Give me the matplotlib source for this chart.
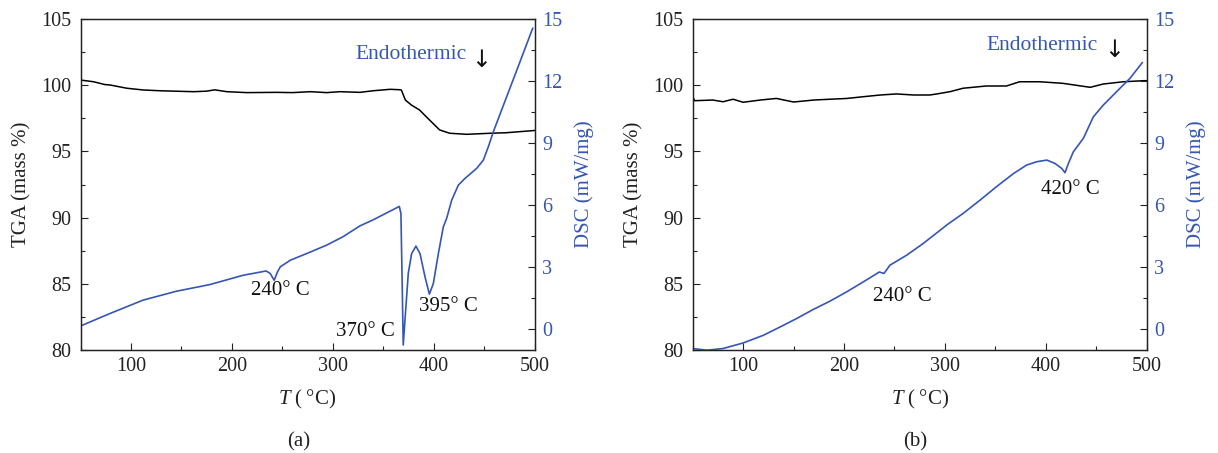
import matplotlib
matplotlib.use("Agg")
import matplotlib.pyplot as plt
from matplotlib.ticker import MultipleLocator

plt.rcParams['font.family'] = ['Liberation Serif', 'DejaVu Serif']
plt.rcParams['mathtext.fontset'] = 'custom'
plt.rcParams['mathtext.rm'] = 'Liberation Serif'
plt.rcParams['mathtext.it'] = 'Liberation Serif:italic'

BLUE = '#3656b3'
DARK = '#222222'

# ---------------- Panel (a) data ----------------
a_tga_T = [50, 63, 74, 79, 96, 112, 129, 162, 175, 183, 195, 215, 244, 260, 278, 294,
           307, 327, 340, 357, 366, 368, 372, 378, 386, 396, 406, 416, 433, 456, 472, 497, 500]
a_tga = [100.39, 100.26, 100.05, 100.02, 99.77, 99.64, 99.58, 99.51, 99.55, 99.65, 99.51,
         99.44, 99.46, 99.44, 99.51, 99.44, 99.51, 99.46, 99.58, 99.69, 99.66, 99.64, 98.88,
         98.50, 98.13, 97.37, 96.62, 96.37, 96.29, 96.37, 96.41, 96.56, 96.58]

a_dsc_T = [50, 79, 112, 145, 178, 211, 234, 238, 242, 245, 248, 258, 278, 294, 310, 327,
           340, 366, 367.6, 368.6, 369.9, 371.6, 374.9, 378.2, 382.5, 386.5, 391.5, 395.8,
           399.7, 404.7, 409.6, 412.9, 417.9, 424.5, 431, 442.7, 449.3, 454.2, 459.2, 472.4,
           485.6, 498.2]
a_dsc = [0.16, 0.76, 1.41, 1.84, 2.16, 2.61, 2.82, 2.70, 2.37, 2.75, 3.02, 3.34, 3.74, 4.07,
         4.47, 5.00, 5.29, 5.94, 5.6, 2.86, -0.76, 0.44, 2.71, 3.66, 4.02, 3.66, 2.53, 1.70,
         2.21, 3.66, 4.95, 5.36, 6.24, 6.97, 7.29, 7.78, 8.18, 8.82, 9.55, 11.24, 12.93, 14.55]

# ---------------- Panel (b) data ----------------
b_tga_T = [50, 52, 70, 80, 90, 100, 117, 133, 150, 170, 186, 203, 219, 236, 252, 269, 285,
           292, 305, 318, 341, 361, 374, 394, 417, 444, 457, 477, 497, 500]
b_tga = [99.13, 98.83, 98.88, 98.75, 98.94, 98.71, 98.88, 99.0, 98.73, 98.88, 98.94, 99.0,
         99.13, 99.26, 99.34, 99.26, 99.26, 99.34, 99.51, 99.77, 99.94, 99.94, 100.26, 100.26,
         100.14, 99.84, 100.09, 100.26, 100.34, 100.34]

b_dsc_T = [50, 64, 80, 100, 120, 136.5, 153, 169.5, 186, 202.6, 219, 235, 239.6, 245.5, 262,
           278.5, 295, 302, 318, 334.7, 351, 368, 381, 391, 401, 409, 415.7, 419, 422.4, 427.3,
           437.2, 447.1, 457, 470, 483.4, 495.6]
b_dsc = [-0.93, -1.01, -0.93, -0.66, -0.29, 0.11, 0.52, 0.96, 1.36, 1.81, 2.29, 2.77, 2.70,
         3.10, 3.58, 4.15, 4.78, 5.05, 5.60, 6.24, 6.89, 7.53, 7.94, 8.10, 8.18, 8.02, 7.78,
         7.57, 8.02, 8.58, 9.23, 10.27, 10.84, 11.48, 12.13, 12.89]

x_ticks = [100, 200, 300, 400, 500]
tga_ticks = [80, 85, 90, 95, 100, 105]
dsc_ticks = [0, 3, 6, 9, 12, 15]

FS = 14.5
LABFS = 15
NOTEFS = 15

fig = plt.figure(figsize=(12.18, 4.53), dpi=100)
W, H = 1218.0, 453.0


def make_panel(left_px, tga_T, tga, dsc_T, dsc, notes, endo_xy, arrow_xy, tag, tag_x):
    ax = fig.add_axes([left_px / W, 1 - 350 / H, 454 / W, 331 / H])
    ax2 = ax.twinx()
    ax.plot(tga_T, tga, color='black', lw=1.1)
    ax2.plot(dsc_T, dsc, color=BLUE, lw=1.2)
    ax.set_xlim(50, 500)
    ax.set_ylim(80, 105)
    ax2.set_ylim(-1, 15)
    ax.set_xticks(x_ticks)
    ax.set_yticks(tga_ticks)
    ax2.set_yticks(dsc_ticks)
    ax.xaxis.set_minor_locator(MultipleLocator(50))
    ax.yaxis.set_minor_locator(MultipleLocator(2.5))
    ax2.yaxis.set_minor_locator(MultipleLocator(1.5))
    for a in (ax, ax2):
        for s in a.spines.values():
            s.set_color(DARK)
            s.set_linewidth(0.9)
    ax.tick_params(axis='both', which='major', direction='in', length=4.7, width=0.8,
                   color=DARK, labelsize=FS, top=False, right=False)
    ax.tick_params(axis='both', which='minor', direction='in', length=2.8, width=0.8,
                   color=DARK, top=False, right=False)
    ax.tick_params(axis='y', pad=6.5, labelcolor='#222222')
    ax.tick_params(axis='x', pad=5, labelcolor='#222222')
    ax2.tick_params(axis='y', which='major', direction='in', length=4.7, width=0.8,
                    color=DARK, labelsize=FS, labelcolor=BLUE, pad=5.5)
    ax2.tick_params(axis='y', which='minor', direction='in', length=2.8, width=0.8, color=DARK)
    ax.set_ylabel('TGA (mass %)', fontsize=LABFS, color='#222222')
    ax.yaxis.set_label_coords(-0.108, 0.5)
    ax2.set_ylabel('DSC (mW/mg)', fontsize=LABFS, color=BLUE)
    ax2.yaxis.set_label_coords(1.088, 0.5)
    ax.set_xlabel('$T$ (\u2009°C)', fontsize=LABFS, color='#222222')
    ax.xaxis.set_label_coords(0.5, -0.115)
    for (txt, x, y, ha) in notes:
        ax2.text(x, y, txt, fontsize=NOTEFS, ha=ha, va='center', color='#111111')
    ax2.text(endo_xy[0], endo_xy[1], 'Endothermic', fontsize=15.5, ha='left', va='center',
             color=BLUE)
    ax2.text(arrow_xy[0], arrow_xy[1], '\u2193', fontsize=17, ha='center', va='center',
             color='#111111', family='DejaVu Sans')
    ax.text(tag_x, -0.278, tag, transform=ax.transAxes, fontsize=LABFS, ha='center',
            va='center', color='#222222')
    return ax, ax2


make_panel(80.5, a_tga_T, a_tga, a_dsc_T, a_dsc,
           [('240° C', 247.7, 1.87, 'center'),
            ('370° C', 361.7, -0.12, 'right'),
            ('395° C', 385.5, 1.12, 'left')],
           (323, 13.26), (447.4, 13.0), '(a)', 0.48)

make_panel(692.7, b_tga_T, b_tga, b_dsc_T, b_dsc,
           [('240° C', 228.4, 1.61, 'left'),
            ('420° C', 394.9, 6.77, 'left')],
           (341, 13.74), (467.2, 13.48), '(b)', 0.49)

fig.savefig('out.png', dpi=100)
